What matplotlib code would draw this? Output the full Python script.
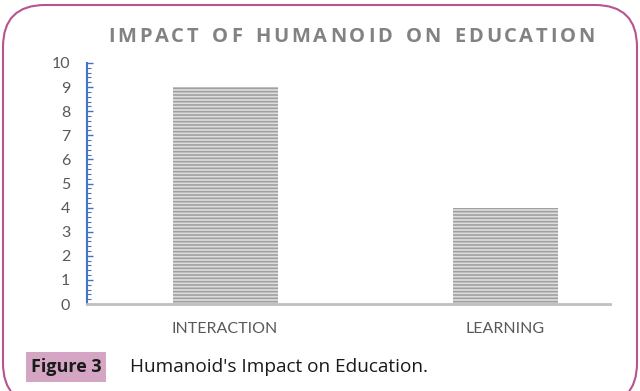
import matplotlib
matplotlib.use("Agg")
import matplotlib.pyplot as plt
from matplotlib.patches import FancyBboxPatch, Rectangle
from matplotlib.ticker import MultipleLocator
from matplotlib.font_manager import FontProperties

categories = ["INTERACTION", "LEARNING"]
values = [9, 4]
title = "IMPACT OF HUMANOID ON EDUCATION"
fig_label = "Figure 3"
caption = "Humanoid's Impact on Education."

plt.rcParams["font.family"] = ["Lato", "DejaVu Sans"]
plt.rcParams["hatch.linewidth"] = 1.2

fig = plt.figure(figsize=(6.4, 3.91), dpi=100)
ax = fig.add_axes([87 / 640, 1 - 304 / 391, 523 / 640, 241 / 391])

x = list(range(len(categories)))
ax.bar(x, values, width=0.375, color="#dedede", edgecolor="#a0a0a0",
       linewidth=0, hatch="-----")
ax.set_xlim(-0.493, 1.375)
ax.set_ylim(0, 10)
ax.set_xticks(x)
ax.set_xticklabels(categories)
ax.yaxis.set_major_locator(MultipleLocator(1))
ax.yaxis.set_minor_locator(MultipleLocator(0.2))

for s in ["top", "right"]:
    ax.spines[s].set_visible(False)
ax.spines["left"].set_color("#4472c4")
ax.spines["left"].set_linewidth(1.5)
ax.spines["bottom"].set_color("#c0c0c0")
ax.spines["bottom"].set_linewidth(2)

ax.tick_params(axis="y", which="major", direction="in", length=4, width=1,
               color="#4472c4", labelcolor="#595959", labelsize=11.5, pad=12)
ax.tick_params(axis="y", which="minor", direction="in", length=3, width=0.8,
               color="#4472c4")
ax.tick_params(axis="x", length=0, labelcolor="#595959", labelsize=11.5, pad=13)

# title with wide letter spacing, placed char by char
renderer = fig.canvas.get_renderer()
fp = FontProperties(family=["Open Sans", "DejaVu Sans"], weight="bold", size=14.5)
widths = []
for ch in title:
    if ch == " ":
        widths.append(None)
    else:
        w, h, d = renderer.get_text_width_height_descent(ch, fp, ismath=False)
        widths.append(w)
space_w = 8.0
x_left, x_right = 108, 595
glyphs = sum(w if w is not None else space_w for w in widths)
gap = (x_right - x_left - glyphs) / (len(title) - 1)
xpos = x_left
for ch, w in zip(title, widths):
    if w is None:
        xpos += space_w + gap
        continue
    fig.text(xpos / 640, 1 - 37 / 391, ch, fontproperties=fp, color="#828282",
             ha="left", va="center")
    xpos += w + gap

# rounded border (inches)
border = FancyBboxPatch((0.03, 3.91 - 4.05), 6.34, 4.0,
                        boxstyle="round,pad=0,rounding_size=0.42",
                        transform=fig.dpi_scale_trans, fill=False,
                        edgecolor="#b5548f", linewidth=1.5)
fig.patches.append(border)

# caption
fig.patches.append(Rectangle((26 / 640, 1 - 382 / 391), 80 / 640, 30 / 391,
                             transform=fig.transFigure, facecolor="#d4a6c4",
                             edgecolor="none"))
fig.text(66 / 640, 1 - 367 / 391, fig_label, fontsize=13, weight="bold",
         color="#1a1a1a", ha="center", va="center", family=["Open Sans", "DejaVu Sans"])
fig.text(130 / 640, 1 - 367 / 391, caption, fontsize=13.7, color="#1a1a1a",
         ha="left", va="center", family=["Open Sans", "DejaVu Sans"])

fig.savefig("out.png", dpi=100)
